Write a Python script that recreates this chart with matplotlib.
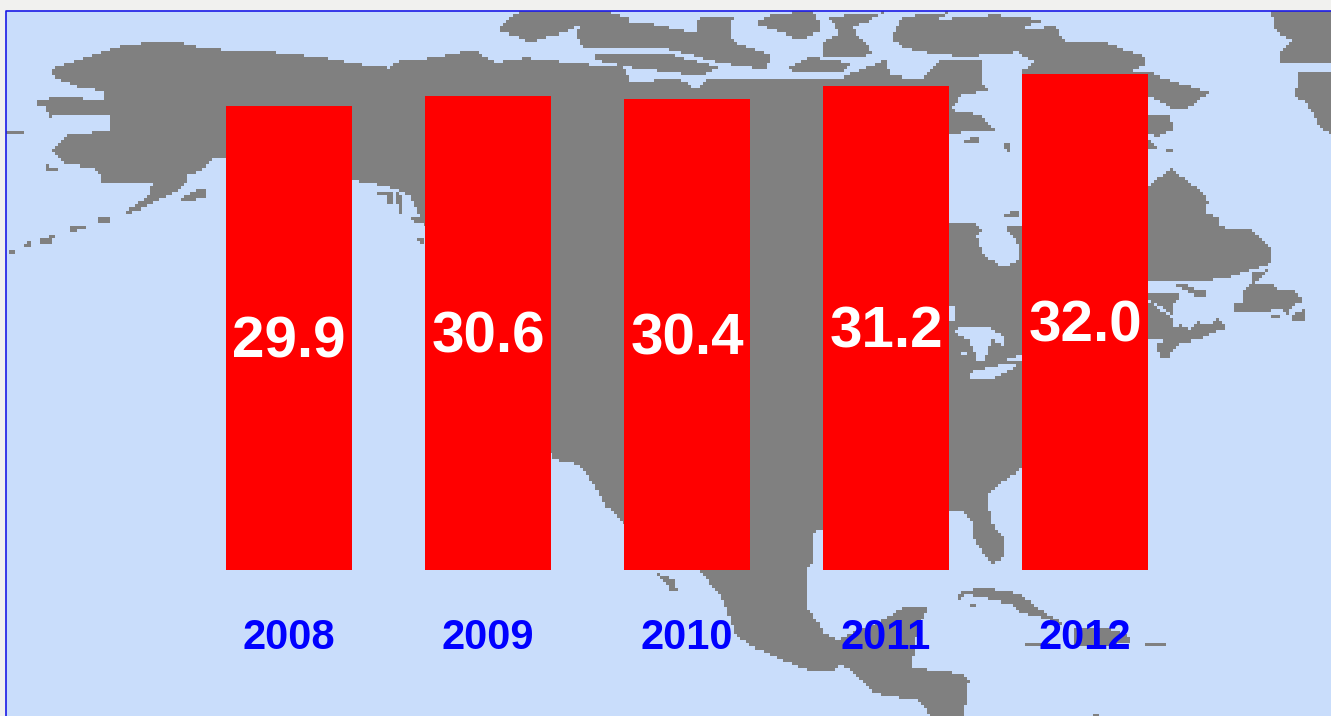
import matplotlib
matplotlib.use("Agg")
import matplotlib.pyplot as plt
import numpy as np
from matplotlib.colors import ListedColormap
from matplotlib.path import Path

years = ["2008", "2009", "2010", "2011", "2012"]
values = [29.9, 30.6, 30.4, 31.2, 32.0]

W, H = 1331, 716
SEA, LAND = "#c9ddfb", "#808080"

# backdrop map, outlines in image pixels, blocked onto a coarse grid below
land = [
    # mainland: Alaska, arctic coast, Hudson Bay, Labrador, US, Mexico
    [(51,69),(87,57),(125,45),(153,42),(178,42),(206,49),(248,50),(282,53),(325,58),(363,65),(390,68),
     (395,62),(433,58),(473,50),(496,63),(526,58),(562,62),(624,68),(632,83),(678,77),(697,90),(707,77),
     (767,78),(809,80),(835,80),(886,60),(890,75),(920,80),(941,60),(983,60),(981,80),(988,90),(962,95),
     (950,110),(979,115),(996,130),(948,133),(948,222),(973,222),(982,230),(977,237),(982,252),(1000,267),
     (1007,265),(1019,260),(1019,250),(1015,237),(1008,233),(1007,226),(1022,226),(1100,180),(1148,188),
     (1170,168),(1202,192),(1209,203),(1205,213),(1217,217),
     (1219,227),(1251,230),(1270,247),(1272,263),(1230,277),(1209,280),(1148,280),(1100,300),(1148,340),
     (1022,468),(997,485),(987,497),(992,523),(1004,540),(1002,560),(992,563),(981,550),(974,537),(974,523),
     (964,512),(948,513),(823,530),(812,533),(815,560),(807,567),(807,607),(817,620),(823,633),(838,640),
     (888,617),(903,608),(928,608),(918,627),(911,667),(941,672),(959,673),(969,680),(964,713),(964,716),
     (931,716),(918,700),(875,693),(850,670),(838,663),(835,672),(812,672),(782,660),(754,647),(737,638),
     (727,610),(719,593),(701,573),(660,540),(623,522),(606,507),(593,483),(580,465),(555,460),(551,453),
     (500,300),(425,225),(410,195),(385,186),(352,180),(225,157),(212,160),(202,170),(187,175),(187,182),(174,193),
     (144,208),(119,217),(138,203),(148,197),(153,183),(102,182),(98,170),(64,163),(53,150),(68,135),
     (109,130),(112,115),(49,117),(45,107),(30,103),(57,97),(106,100),(102,90),(78,87),(51,75)],
    # Baja
    [(640,560),(651,570),(674,580),(677,590),(670,590),(661,577)],
    # panhandle islands
    [(378,191),(392,191),(392,203),(388,203),(387,194),(378,194)],
    [(395,192),(400,215),(403,215),(403,195)],
    [(410,218),(425,218),(425,225),(415,222)],
    [(416,238),(425,238),(425,248),(422,243),(416,240)],
    # Alaska islands
    [(6,130),(25,130),(25,134),(6,134)],
    [(45,165),(59,169),(59,172),(45,172)],
    [(70,227),(86,227),(86,230),(70,231)],
    [(95,225),(99,216),(109,216),(113,225),(109,222),(99,222)],
    [(40,238),(55,236),(50,245),(40,245)],
    [(25,244),(32,241),(32,246),(25,248)],
    [(10,249),(14,249),(14,253),(10,253)],
    [(180,200),(191,192),(208,188),(204,198),(187,203)],
    # arctic islands
    [(498,32),(509,20),(520,10),(605,10),(628,18),(628,25),(577,27),(562,33),(530,42),(513,35)],
    [(579,27),(645,23),(665,27),(695,33),(699,18),(733,17),(729,37),(737,43),(758,50),(771,55),(767,70),
     (720,63),(665,48),(585,48),(577,37)],
    [(594,53),(665,53),(720,68),(700,76),(665,72),(632,68),(594,60)],
    [(754,23),(775,13),(814,12),(822,30),(801,40),(775,30)],
    [(829,17),(886,12),(865,23),(852,27),(873,53),(860,57),(824,57),(824,42),(839,33)],
    [(892,38),(903,17),(950,12),(937,20),(996,15),(1045,20),(1018,30),(1056,27),(1064,40),(1107,43),
     (1145,57),(1145,65),(1132,72),(1022,72),(1035,63),(1018,52),(962,57),(924,52),(903,47)],
    [(801,62),(809,57),(852,63),(843,72),(792,73),(788,67)],
    [(1022,72),(1148,72),(1170,80),(1209,92),(1192,107),(1175,110),(1148,95),(1022,95)],
    [(1148,115),(1168,115),(1175,128),(1158,137),(1148,133)],
    [(1148,140),(1157,148),(1148,148)],
    [(1165,150),(1172,150),(1172,153),(1165,153)],
    [(962,142),(979,135),(979,142)],
    [(1001,145),(1011,142),(1009,152)],
    [(1005,213),(1018,211),(1018,217),(1005,217)],
    # Greenland
    [(1270,10),(1331,10),(1331,63),(1281,63),(1281,50),(1294,40),(1277,33)],
    [(1298,72),(1331,72),(1331,133),(1321,128),(1306,103),(1296,97),(1298,80)],
    # Atlantic Canada
    [(1234,303),(1242,303),(1245,288),(1252,285),(1253,273),(1268,270),(1255,284),(1272,285),(1277,290),
     (1295,292),(1303,300),(1295,305),(1287,315),(1282,310),(1245,311),(1234,311)],
    [(1291,315),(1300,312),(1306,307),(1306,315),(1303,322),(1295,322)],
    [(1272,315),(1280,315),(1280,318),(1272,318)],
    [(1148,292),(1172,292),(1180,296),(1172,303),(1172,315),(1160,305),(1148,300)],
    [(1148,300),(1172,318),(1172,328),(1180,325),(1190,330),(1198,322),(1210,325),(1218,317),(1225,328),
     (1210,335),(1203,338),(1188,342),(1176,345),(1168,357),(1161,357),(1157,345),(1170,338),(1148,338)],
    [(1176,284),(1185,284),(1190,288),(1207,292),(1207,295),(1195,295),(1185,290),(1176,287)],
    # Caribbean
    [(959,602),(959,593),(981,588),(1012,592),(1024,597),(1037,608),(1055,618),(1065,627),(1045,618),
     (1022,613),(1014,605),(981,597),(966,595)],
    [(1075,627),(1115,630),(1130,637),(1130,643),(1100,648),(1075,647)],
    [(1023,642),(1050,643),(1050,648),(1027,648)],
    [(1145,642),(1166,642),(1166,648),(1145,648)],
    [(969,603),(976,603),(976,607),(969,607)],
    [(1092,713),(1100,713),(1100,716),(1092,716)],
]
water = [
    [(948,307),(954,307),(954,322),(948,322)],
    [(954,332),(960,326),(988,326),(1003,337),(1003,345),(992,340),(985,360),(977,360),(970,340),(954,333)],
    [(961,353),(968,350),(968,354),(961,356)],
    [(969,380),(969,373),(1000,365),(1015,363),(1015,367),(1000,375),(988,380)],
    [(1007,360),(1022,353),(1022,361),(1007,361)],
]

CELL = 3.07
xc = np.arange(6, W, CELL)
yc = np.arange(11, H, CELL)
gx, gy = np.meshgrid(xc + CELL / 2, yc + CELL / 2)
pts = np.column_stack([gx.ravel(), gy.ravel()])
mask = np.zeros(len(pts), dtype=bool)
for poly in land:
    mask |= Path(poly).contains_points(pts)
for poly in water:
    mask &= ~Path(poly).contains_points(pts)
mask = mask.reshape(gx.shape)

fig = plt.figure(figsize=(W / 100, H / 100), dpi=100, facecolor="#f1f1ef")
bg = fig.add_axes([0, 0, 1, 1])
bg.imshow(mask, cmap=ListedColormap([SEA, LAND]), vmin=0, vmax=1, interpolation="nearest",
          extent=(6, 6 + CELL * len(xc), 11 + CELL * len(yc), 11), aspect="auto")
bg.plot([5.5, 5.5, W], [H, 10.5, 10.5], color="#1a1ae6", lw=1.2)
bg.set_xlim(0, W); bg.set_ylim(H, 0)
bg.axis("off")

# bars: one unit is 15.49 px, slots are 199 px apart
ax = fig.add_axes([6 / W, (H - 569.5) / H, (W - 6) / W, (569.5 - 11) / H])
ax.patch.set_alpha(0)
x = np.arange(len(years))
ax.bar(x, values, width=126 / 199, color="#ff0000")
ax.set_xlim((6 - 289) / 199, (W - 289) / 199)
ax.set_ylim(0, (569.5 - 11) / 15.49)
for i, v in zip(x, values):
    ax.annotate(f"{v:.1f}", (i, v / 2), xytext=(0, -3.6), textcoords="offset points", ha="center",
                va="center", color="white", fontsize=42, fontweight="bold", family="Liberation Sans")
ax.set_xticks(x, years)
ax.set_yticks([])
ax.tick_params(axis="x", length=0, pad=35, labelcolor="#0000ff")
for t in ax.get_xticklabels():
    t.set_fontsize(30); t.set_fontweight("bold"); t.set_family("Liberation Sans")
for s in ax.spines.values():
    s.set_visible(False)

fig.savefig("out.png", dpi=100)
